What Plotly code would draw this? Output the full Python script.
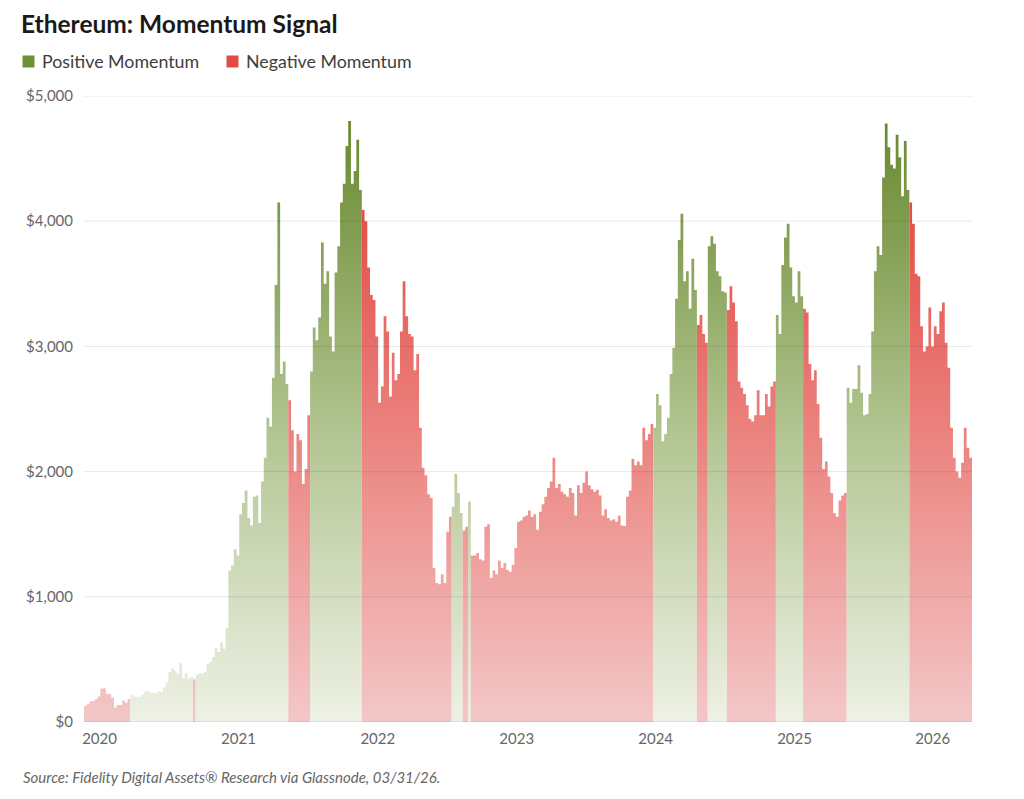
import pandas as pd
import plotly.graph_objects as go

# ---------------- data (weekly ETH price, USD) ----------------
price_2020 = [130, 141, 165, 168, 183, 204, 265, 270, 226, 224, 195, 115, 136, 135, 172, 155, 183,
              215, 204, 202, 200, 220, 244, 247, 235, 233, 231, 246, 237, 275, 318, 400, 428, 408,
              386, 470, 350, 388, 345, 359, 341, 379, 392, 388, 402, 463, 479, 520, 590, 560, 636,
              585, 750]
price_2021 = [1210, 1250, 1380, 1330, 1660, 1750, 1850, 1630, 1570, 1800, 1810, 1590, 1920, 2110,
              2430, 2360, 2750, 3490, 4150, 2780, 2880, 2700,
              2570, 2330, 2000, 2300, 2250, 1900, 2020, 2450,
              2800, 3150, 3050, 3230, 3830, 3500, 3600, 3080, 2960, 3590, 3800, 4150, 4300, 4600,
              4800, 4300, 4400, 4650, 4250,
              4090, 4000, 3630]
price_2022 = [3410, 3370, 3080, 2550, 2680, 3240, 3120, 2600, 2950, 2730, 2780, 3120, 3520, 3240,
              3100, 3080, 2810, 2940, 2350, 2030, 1970, 1820, 1790, 1230, 1110, 1100, 1180, 1110,
              1520, 1640,
              1720, 1980, 1830, 1670, 1530, 1560, 1760,
              1330, 1330, 1350, 1300, 1290, 1560, 1580, 1150, 1210, 1180, 1290, 1230, 1270, 1215,
              1200]
price_2023 = [1255, 1390, 1600, 1610, 1640, 1650, 1690, 1640, 1660, 1535, 1680, 1740, 1800, 1870,
              1920, 2110, 1870, 1900, 1840, 1820, 1800, 1870, 1830, 1650, 1890, 1830, 1910, 2000,
              1890, 1860, 1840, 1855, 1810, 1650, 1700, 1630, 1610, 1620, 1600, 1650, 1570, 1565,
              1800, 1850, 2100, 2050, 2080, 2050, 2350, 2250, 2300, 2380]
price_2024 = [2350, 2620, 2530, 2240, 2300, 2430, 2780, 2990, 3380, 3850, 4060, 3520, 3600, 3300,
              3700, 3450,
              3170, 3250, 3100, 3030,
              3800, 3880, 3820, 3600, 3560, 3440, 3430,
              3290, 3480, 3350, 3200, 2720, 2670, 2620, 2530, 2420, 2400, 2450, 2650, 2450, 2450,
              2620, 2520, 2680, 2720,
              3250, 3100, 3650, 3870, 3980, 3630, 3400]
price_2025 = [3350, 3600, 3400,
              3300, 3270, 2860, 2730, 2810, 2540, 2270, 2020, 2080, 1960, 1830, 1670, 1640, 1770,
              1810, 1830,
              2670, 2550, 2660, 2660, 2850, 2630, 2450, 2460, 2620, 3120, 3600, 3800, 3730, 4350,
              4780, 4590, 4450, 4420, 4690, 4510, 4200, 4640, 4250,
              4150, 3980, 3580, 3560, 3160, 2960, 3000, 3310, 3000, 3160, 3100]
price_2026 = [3280, 3350, 3030, 2830, 2350, 2110, 2000, 1950, 2070, 2350, 2190, 2110]

momentum_starts = ["2020-01-01", "2020-04-29", "2020-10-07", "2020-10-14", "2021-06-09",
                   "2021-08-04", "2021-12-15", "2022-08-03", "2022-08-31", "2022-09-14",
                   "2022-09-21", "2024-01-03", "2024-04-24", "2024-05-22", "2024-07-10",
                   "2024-11-13", "2025-01-22", "2025-05-14", "2025-10-22"]
momentum_signal = ["neg", "pos", "neg", "pos", "neg", "pos", "neg", "pos", "neg", "pos",
                   "neg", "pos", "neg", "pos", "neg", "pos", "neg", "pos", "neg"]

y_ticks = [0, 1000, 2000, 3000, 4000, 5000]
year_labels = ["2020", "2021", "2022", "2023", "2024", "2025", "2026"]
year_label_dates = ["2020-02-10", "2021-02-01", "2022-01-25", "2023-01-17", "2024-01-09",
                    "2024-12-31", "2025-12-21"]

# ---------------- build ----------------
prices = price_2020 + price_2021 + price_2022 + price_2023 + price_2024 + price_2025 + price_2026
dates = pd.date_range("2020-01-01", periods=len(prices), freq="7D")
end_date = dates[-1] + pd.Timedelta(days=7)

starts = pd.to_datetime(momentum_starts)
signal = [momentum_signal[int((starts <= d).sum()) - 1] for d in dates]

runs = []
i, n = 0, len(prices)
while i < n:
    j = i
    while j + 1 < n and signal[j + 1] == signal[i]:
        j += 1
    runs.append((i, j, signal[i]))
    i = j + 1

GREEN_SCALE = [[0.0, "rgb(238,241,229)"], [0.45, "rgb(180,198,148)"], [1.0, "rgb(98,132,38)"]]
RED_SCALE = [[0.0, "rgb(243,199,199)"], [0.45, "rgb(235,132,128)"], [1.0, "rgb(224,52,45)"]]

fig = go.Figure()
for a, b, s in runs:
    xs = list(dates[a:b + 1])
    ys = list(prices[a:b + 1])
    xs.append(dates[b + 1] if b + 1 < n else end_date)
    ys.append(prices[b])
    fig.add_trace(go.Scatter(
        x=xs, y=ys, mode="lines",
        line=dict(width=0, shape="hv"),
        fill="tozeroy",
        fillgradient=dict(type="vertical",
                          colorscale=GREEN_SCALE if s == "pos" else RED_SCALE,
                          start=0, stop=5000),
        showlegend=False, hoverinfo="skip",
    ))

L, R, T, B = 84, 52, 96, 77
W, H = 1024, 799
PW, PH = W - L - R, H - T - B


def xp(px):
    return (px - L) / PW


def yp(py):
    return (H - B - py) / PH


shapes = []
for v in y_ticks:
    shapes.append(dict(type="line", xref="paper", yref="y", x0=0, x1=1, y0=v, y1=v,
                       line=dict(color="rgba(0,0,0,0.09)" if v else "rgba(0,0,0,0.13)", width=1),
                       layer="above"))
# legend swatches
shapes.append(dict(type="rect", xref="paper", yref="paper", x0=xp(22.5), x1=xp(34.5),
                   y0=yp(67.5), y1=yp(55.5), fillcolor="#6e9236", line=dict(width=0)))
shapes.append(dict(type="rect", xref="paper", yref="paper", x0=xp(226.5), x1=xp(238.5),
                   y0=yp(67.5), y1=yp(55.5), fillcolor="#e24a44", line=dict(width=0)))

annotations = [
    dict(text="Positive Momentum", xref="paper", yref="paper", x=xp(40), y=yp(61.5),
         xanchor="left", yanchor="middle", showarrow=False,
         font=dict(family="Lato", size=17.8, color="#3d3d3d")),
    dict(text="Negative Momentum", xref="paper", yref="paper", x=xp(243.5), y=yp(61.5),
         xanchor="left", yanchor="middle", showarrow=False,
         font=dict(family="Lato", size=17.8, color="#3d3d3d")),
    dict(text="<i>Source: Fidelity Digital Assets® Research via Glassnode, 03/31/26.</i>",
         xref="paper", yref="paper", x=xp(21), y=yp(777), xanchor="left", yanchor="middle",
         showarrow=False, font=dict(family="Lato", size=15, color="#666666")),
]

y_ticktext = ["$" + f"{v:,}" for v in y_ticks]

fig.update_layout(
    width=W, height=H,
    margin=dict(l=L, r=R, t=T, b=B),
    paper_bgcolor="white", plot_bgcolor="white",
    title=dict(text="<b>Ethereum: Momentum Signal</b>", x=21 / W, xref="container",
               xanchor="left", y=1 - 24 / H, yref="container", yanchor="middle",
               font=dict(family="Lato", size=24.5, color="#1a1a1a")),
    xaxis=dict(type="date", range=[dates[0], end_date], tickvals=year_label_dates,
               ticktext=year_labels, showgrid=False, zeroline=False, showline=False,
               ticks="", ticklabelstandoff=6,
               tickfont=dict(family="Lato", size=15, color="#666666")),
    yaxis=dict(range=[0, 5000], tickmode="array", tickvals=y_ticks, ticktext=y_ticktext,
               showgrid=False, zeroline=False, showline=False, ticks="",
               ticklabelstandoff=10,
               tickfont=dict(family="Lato", size=15, color="#666666")),
    shapes=shapes, annotations=annotations,
)

fig.write_html("out.html")
